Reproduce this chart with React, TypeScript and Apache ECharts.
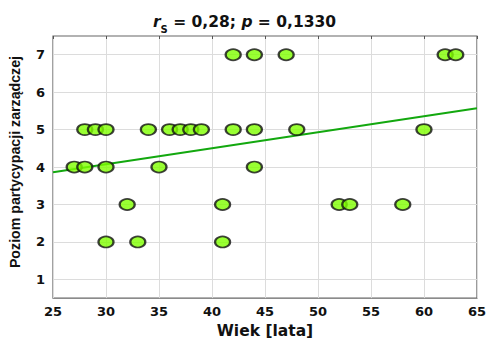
import React, { useEffect, useRef } from "react";
import * as echarts from "echarts";

const ageAt7 = [42, 44, 47, 62, 63];
const ageAt5 = [28, 29, 30, 34, 36, 37, 38, 39, 42, 44, 48, 60];
const ageAt4 = [27, 28, 30, 35, 44];
const ageAt3 = [32, 41, 52, 53, 58];
const ageAt2 = [30, 33, 41];
const levels = [7, 5, 4, 3, 2];
const fitLine = [
  [25, 3.86],
  [65, 5.57],
];
const xTicks = [25, 30, 35, 40, 45, 50, 55, 60, 65];
const yTicks = [1, 2, 3, 4, 5, 6, 7];

export default function App() {
  const ref = useRef<HTMLDivElement>(null);
  useEffect(() => {
    const chart = echarts.init(ref.current!, null, { renderer: "svg" });
    const groups = [ageAt7, ageAt5, ageAt4, ageAt3, ageAt2];
    const points: number[][] = [];
    groups.forEach((g, i) => g.forEach((a) => points.push([a, levels[i]])));
    const font = "'Liberation Sans', Arial, sans-serif";
    const wide = "'DejaVu Sans', sans-serif";
    chart.setOption({
      animation: false,
      backgroundColor: "#fff",
      title: {
        text: "{r|r}{s|S}{n| = 0,28; }{r|p}{n| = 0,1330}",
        left: "center",
        top: 9,
        textStyle: {
          rich: {
            r: { fontFamily: wide, fontSize: 15.5, fontWeight: "bold", fontStyle: "italic", color: "#111" },
            s: { fontFamily: wide, fontSize: 10, fontWeight: "bold", color: "#111", verticalAlign: "bottom", padding: [0, 0, -4, 0] },
            n: { fontFamily: wide, fontSize: 15.5, fontWeight: "bold", color: "#111" },
          },
        },
      },
      grid: {
        left: 53,
        right: 10,
        top: 36,
        bottom: 42,
        show: true,
        borderColor: "#666",
        borderWidth: 1.2,
        backgroundColor: "transparent",
      },
      xAxis: [
        {
          type: "value",
          min: 25,
          max: 65,
          interval: 5,
          name: "Wiek [lata]",
          nameLocation: "middle",
          nameGap: 22,
          nameTextStyle: { fontFamily: wide, fontSize: 15.5, fontWeight: "bold", color: "#111" },
          axisLine: { show: false },
          axisTick: { show: false },
          axisLabel: {
            fontFamily: wide,
            fontSize: 13,
            fontWeight: "bold",
            color: "#111",
            margin: 7,
            formatter: (v: number) => (xTicks.includes(v) ? String(v) : ""),
          },
          splitLine: { show: true, lineStyle: { color: "#dcdcdc", width: 1 } },
        },
        {
          type: "value",
          position: "top",
          min: 25,
          max: 65,
          interval: 5,
          axisLine: { show: false },
          axisTick: { show: true, inside: true, length: 3, lineStyle: { color: "#555" } },
          axisLabel: { show: false },
          splitLine: { show: false },
        },
      ],
      yAxis: [
        {
          type: "value",
          min: 0.5,
          max: 7.5,
          interval: 0.5,
          name: "Poziom partycypacji zarządczej",
          nameLocation: "middle",
          nameGap: 31,
          nameTextStyle: {
            fontFamily: font,
            fontSize: 14.2,
            fontWeight: "bold",
            color: "#111",
            padding: [0, 0, 0, 10],
          },
          axisLine: { show: false },
          axisTick: { show: false },
          axisLabel: {
            fontFamily: wide,
            fontSize: 13,
            fontWeight: "bold",
            color: "#111",
            margin: 8,
            formatter: (v: number) => (yTicks.includes(v) ? String(v) : ""),
          },
          splitLine: { show: true, lineStyle: { color: ["transparent", "#dcdcdc"], width: 1 } },
        },
      ],
      series: [
        {
          type: "line",
          data: fitLine,
          symbol: "none",
          lineStyle: { color: "#13a80f", width: 2 },
          z: 2,
        },
        {
          type: "scatter",
          data: points,
          symbol: "circle",
          symbolSize: [15, 11],
          itemStyle: { color: "#80ff00", borderColor: "#111", borderWidth: 2 },
          z: 3,
        },
      ],
    });
    return () => chart.dispose();
  }, []);
  return <div ref={ref} style={{ width: 489, height: 344, position: "absolute", left: 0, top: 0 }} />;
}
